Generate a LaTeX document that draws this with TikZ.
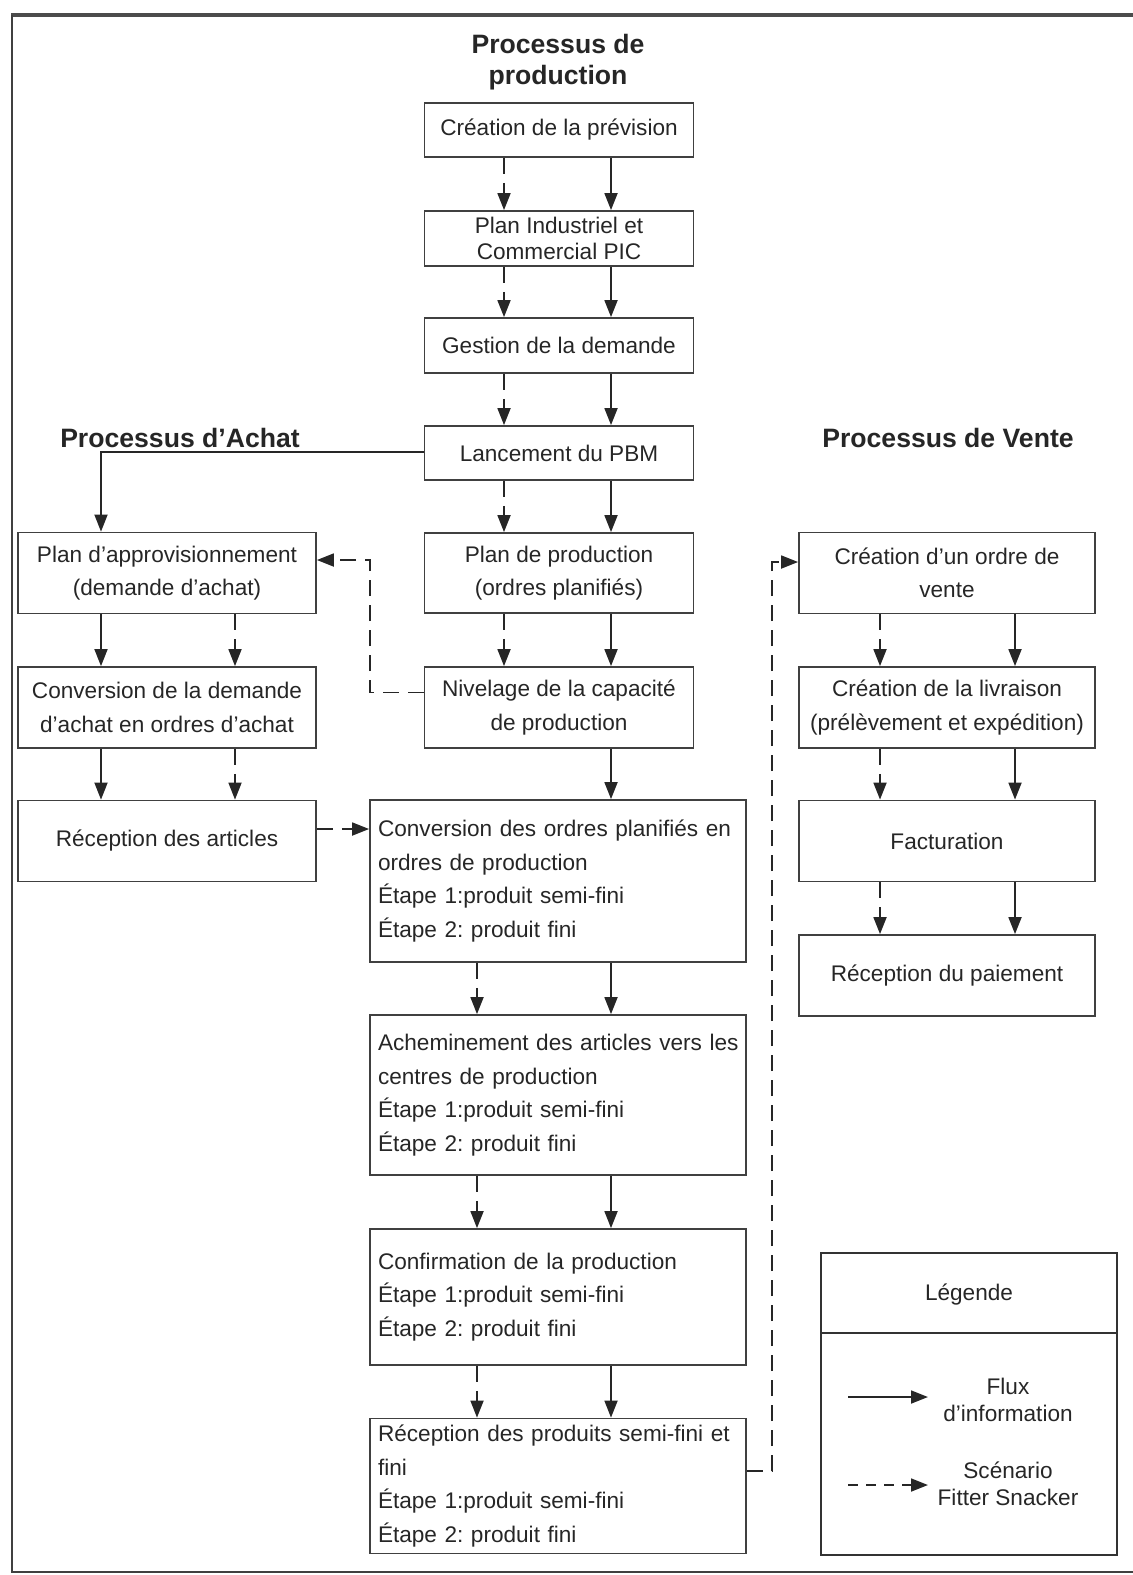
\documentclass[tikz,border=0pt]{standalone}
\usepackage{fontspec}
\setmainfont{Liberation Sans}
\usetikzlibrary{arrows.meta}
\frenchspacing

\begin{document}
\begin{tikzpicture}[x=0.5pt,y=-0.5pt,
  ink/.style={black!85},
  box/.style={draw=black!75, line width=0.9pt, inner sep=0pt, text=black!85,
    font=\fontsize{11.3}{16.6}\selectfont, align=center},
  midbox/.style={box, minimum width=134.5pt},
  bigbox/.style={box, minimum width=188pt, text width=180pt, align=left,
    font=\fontsize{11.3}{16.8}\selectfont},
  achbox/.style={box, minimum width=149pt, minimum height=40.5pt},
  ventbox/.style={box, minimum width=148pt, minimum height=40.5pt},
  title/.style={text=black!85, font=\fontsize{13.3}{15.5}\selectfont\bfseries, align=center},
  info/.style={draw=black!85, line width=0.9pt, -{Triangle[length=8.5pt,width=6.5pt]}},
  scen/.style={info, dash pattern=on 8pt off 4.5pt},
]
\useasboundingbox (0,0) rectangle (1133,1575);

% outer frame (open on the right)
\draw[black!70, line width=2pt] (11,15) -- (1140,15);
\draw[black!75, line width=1.3pt] (12,15) -- (12,1572) -- (1140,1572);

% titles
\node[title] (tprod) at (558,62) {Processus de\\production};
\node[title] (tach) at (180,438) {Processus d'Achat};
\node[title] (tvente) at (948,438) {Processus de Vente};

% production column
\node[midbox, minimum height=27pt] (b1) at (559,130) {Création de la prévision};
\node[midbox, minimum height=27.5pt, font=\fontsize{11.3}{12.8}\selectfont] (b2) at (559,238.5) {Plan Industriel et\\Commercial PIC};
\node[midbox, minimum height=27.5pt] (b3) at (559,345.5) {Gestion de la demande};
\node[midbox, minimum height=27pt] (b4) at (559,453) {Lancement du PBM};
\node[midbox, minimum height=40pt] (b5) at (559,573) {Plan de production\\(ordres planifiés)};
\node[midbox, minimum height=40.5pt] (b6) at (559,707.5) {Nivelage de la capacité\\de production};
\node[bigbox, minimum height=81pt] (b7) at (558,881) {\mbox{Conversion des ordres planifiés en}\\ordres de production\\Étape 1:produit semi-fini\\Étape 2: produit fini};
\node[bigbox, minimum height=80pt] (b8) at (558,1095) {\mbox{Acheminement des articles vers les}\\centres de production\\Étape 1:produit semi-fini\\Étape 2: produit fini};
\node[bigbox, minimum height=68pt] (b9) at (558,1297) {Confirmation de la production\\Étape 1:produit semi-fini\\Étape 2: produit fini};
\node[bigbox, minimum height=67.5pt] (b10) at (558,1486) {\mbox{Réception des produits semi-fini et}\\fini\\Étape 1:produit semi-fini\\Étape 2: produit fini};

% purchasing column
\node[achbox] (a1) at (167,573) {Plan d'approvisionnement\\(demande d'achat)};
\node[achbox] (a2) at (167,707.5) {Conversion de la demande\\d'achat en ordres d'achat};
\node[achbox] (a3) at (167,841) {Réception des articles};

% sales column
\node[ventbox] (v1) at (947,573) {Création d'un ordre de\\vente};
\node[ventbox] (v2) at (947,707.5) {Création de la livraison\\(prélèvement et expédition)};
\node[ventbox] (v3) at (947,841) {Facturation};
\node[ventbox] (v4) at (947,975.5) {Réception du paiement};

% arrow columns
\coordinate (pd) at (504,0);
\coordinate (ps) at (611,0);
\coordinate (pd2) at (477,0);
\coordinate (ls) at (101,0);
\coordinate (ld) at (235,0);
\coordinate (vd) at (880,0);
\coordinate (vs) at (1015,0);

% production flow
\foreach \u/\v in {b1/b2,b2/b3,b3/b4,b4/b5,b5/b6}{
  \draw[scen] (\u.south -| pd) -- (\v.north -| pd);
  \draw[info] (\u.south -| ps) -- (\v.north -| ps);
}
\draw[info] (b6.south -| ps) -- (b7.north -| ps);
\foreach \u/\v in {b7/b8,b8/b9,b9/b10}{
  \draw[scen] (\u.south -| pd2) -- (\v.north -| pd2);
  \draw[info] (\u.south -| ps) -- (\v.north -| ps);
}

% purchasing flow
\foreach \u/\v in {a1/a2,a2/a3}{
  \draw[info] (\u.south -| ls) -- (\v.north -| ls);
  \draw[scen] (\u.south -| ld) -- (\v.north -| ld);
}

% sales flow
\foreach \u/\v in {v1/v2,v2/v3,v3/v4}{
  \draw[scen] (\u.south -| vd) -- (\v.north -| vd);
  \draw[info] (\u.south -| vs) -- (\v.north -| vs);
}

% cross-process links
\draw[info] ([yshift=0.5pt]b4.west) -| (a1.north -| ls);
\coordinate (j1) at (370,560);
\draw[scen] ([yshift=7.5pt]b6.west) -| (j1) -- (j1 -| a1.east);
\draw[scen] ([yshift=6pt]a3.east) -- ([yshift=6pt]a3.east -| b7.west);
\coordinate (j2) at (772,562);
\draw[scen] ([yshift=7.5pt]b10.east) -| (j2) -- (j2 -| v1.west);

% legend
\node[draw=black!80, line width=1pt, minimum width=148pt, minimum height=151pt, inner sep=0pt] (leg) at (969,1404) {};
\coordinate (ldiv) at (0,1333);
\draw[black!80, line width=1pt] (ldiv -| leg.west) -- (ldiv -| leg.east);
\node[ink, font=\fontsize{11.3}{13}\selectfont] (legt) at (969,1295) {Légende};
\coordinate (l1a) at (848,1397);
\coordinate (l1b) at (928,1397);
\coordinate (l2a) at (848,1485);
\coordinate (l2b) at (928,1485);
\draw[info] (l1a) -- (l1b);
\draw[scen, dash pattern=on 5pt off 4pt] (l2a) -- (l2b);
\node[ink, align=center, font=\fontsize{11.3}{13.5}\selectfont] (lt1) at (1008,1400) {Flux\\d'information};
\node[ink, align=center, font=\fontsize{11.3}{13.5}\selectfont] (lt2) at (1008,1484) {Scénario\\Fitter Snacker};
\end{tikzpicture}
\end{document}
